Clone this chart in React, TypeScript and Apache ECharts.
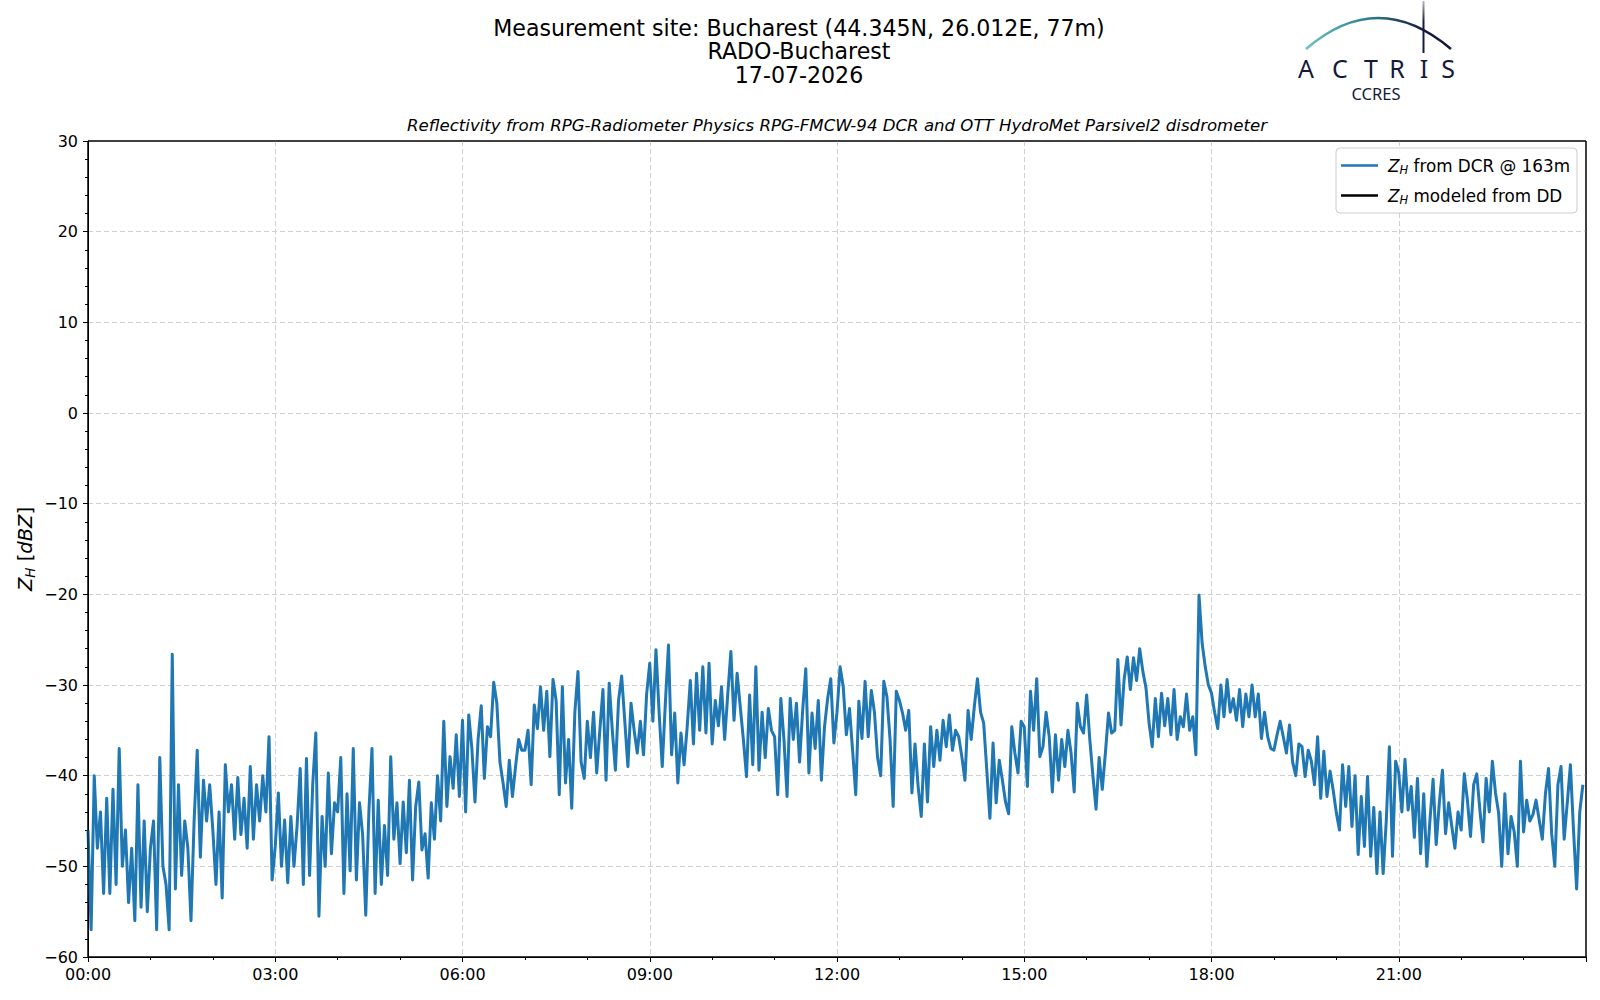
import React, { useEffect, useRef } from "react";
import * as echarts from "echarts";

// Time step between samples, minutes
const STEP_MIN = 3;

// Z_H from DCR @ 163m [dBZ], 3-minute samples, 00:00 - 05:57
const zhDcr00to06 = [
  -46, -57, -40, -48, -44, -53, -42.5, -53, -41.5, -52, -37, -50, -46, -54, -48, -56, -41, -54.5, -45, -55,
  -48, -45, -57, -38, -50, -52, -57, -26.6, -52.5, -41, -51, -45, -48, -56, -45, -37.2, -49, -40.5, -45, -41,
  -46, -52, -44, -53.5, -38.8, -44, -41, -47, -40.2, -46.5, -42.5, -48, -39, -47, -41, -45, -40, -44, -35.7, -51.5,
  -47.8, -41.9, -50, -44.9, -51.8, -44.5, -50, -45.5, -39.2, -52, -38.1, -51, -41, -35.3, -55.5, -44.5, -50, -39.7, -48.6, -43,
  -44, -38, -53, -42, -50.5, -37, -51.5, -43, -46.5, -55.4, -44, -37, -53, -42.7, -52, -45.5, -51, -37.9, -47, -43,
  -49.7, -42.9, -48.5, -40.5, -51.5, -43.4, -40.7, -48.2, -46.4, -51.3, -43, -47, -40, -45, -34, -43.4, -37.9, -41.4, -35.5, -42.3,
];
// 06:00 - 11:57
const zhDcr06to12 = [
  -33.9, -44, -33.3, -37, -42.9, -36, -32.3, -40.3, -34.6, -35.7, -29.7, -32, -38.5, -40.8, -43.4, -38.3, -42.3, -39, -36, -37.2,
  -37.2, -35, -41, -32.2, -34.8, -30.2, -35, -30.7, -37.9, -29.4, -31.7, -42.1, -30.2, -40.8, -36, -43.6, -33, -28.5, -38.5, -40.3,
  -34, -38, -33, -39.7, -35, -30.5, -40.5, -29.8, -35, -39.4, -31.7, -29, -34, -39, -32, -35, -37.5, -34, -37.7, -31,
  -27.6, -34, -26.1, -33, -39, -32, -25.6, -37.7, -33.1, -40.8, -35.3, -38.8, -34.6, -29.5, -36.5, -28.7, -35, -28, -35.3, -27.6,
  -36.5, -31.7, -34.5, -30.2, -36, -31, -26.3, -33.9, -28.7, -32.4, -36, -40.1, -31.1, -38.8, -28, -39.4, -33, -38, -32.6, -35,
  -35.7, -42.1, -31.5, -36, -42.3, -31.5, -36, -32, -38.5, -32.8, -28.2, -39.7, -33.1, -37, -31.7, -40.5, -34.6, -31.5, -29.3, -36.4,
];
// 12:00 - 17:57
const zhDcr12to18 = [
  -33, -28, -30.2, -35.5, -32.6, -37.2, -42.1, -31.8, -35.9, -29.6, -35.7, -30.6, -33, -38, -40, -29.6, -31.3, -36, -43.4, -30.7,
  -31.7, -33.1, -35, -32.8, -41.9, -36.5, -41.2, -44.5, -36.5, -42.9, -34.6, -39, -35, -38.3, -33.9, -36.8, -33.3, -37.2, -35, -35.7,
  -37.9, -40.5, -32.8, -36, -32.4, -29.3, -33, -34.2, -39.4, -44.7, -36.4, -43, -38.3, -40.5, -42.9, -44.2, -34.6, -37.5, -39.7, -34,
  -34.6, -41.2, -30.7, -35, -29.3, -37.9, -36.8, -33, -35.7, -41.8, -35.5, -40.5, -36, -39, -35, -37.5, -41.8, -32, -34.6, -35.3,
  -31.1, -36, -40, -43.7, -38, -41.5, -37.5, -33.1, -35.3, -35, -27.2, -34.4, -29.4, -26.9, -30.5, -27, -29.5, -26, -28.5, -30.3,
  -34.2, -36.8, -31.5, -35.7, -30.9, -34.5, -31.5, -35.5, -30.5, -36, -33.5, -34.6, -31, -35, -33.5, -37.7, -20.1, -25.4, -28, -30,
];
// 18:00 - 23:57
const zhDcr18to24 = [
  -30.9, -33, -34.8, -30, -33.5, -29.4, -33, -31.5, -33.9, -30.5, -34.6, -31, -33.5, -30, -33.5, -31, -35.9, -33, -35.7, -37,
  -37.2, -35.5, -34, -35.7, -37.5, -34.4, -38.5, -40, -36.5, -36.8, -40.1, -37.2, -38.4, -41, -35.7, -42.5, -37.3, -42.3, -39.5, -41.6,
  -44.1, -46, -38.8, -43.4, -39, -45.6, -40, -48.7, -42.3, -47.8, -40.1, -48.9, -43.5, -50.8, -44, -50.8, -45, -36.8, -48.9, -38.4,
  -39.7, -44, -38.2, -43.8, -41.2, -46.8, -40.3, -48.6, -42, -50, -44.9, -40.4, -47.6, -43, -39.4, -46.4, -43, -45.6, -48, -44,
  -46, -39.8, -42.7, -46.7, -41, -39.8, -43.8, -47.3, -40.3, -44, -38.4, -41.9, -44.1, -50, -42, -48.6, -44.5, -46.2, -50, -38.4,
  -46.2, -42.7, -45, -44.3, -42.7, -44.9, -47, -42, -39.2, -46.4, -50, -41, -39, -47, -43, -38.8, -46, -52.5, -44, -41,
];

// Z_H modeled from DD: no data for this day
const zhModeledDD: [number, number][] = [];

const xTickLabels = ["00:00", "03:00", "06:00", "09:00", "12:00", "15:00", "18:00", "21:00", "24:00"];

const titleLines = [
  "Measurement site: Bucharest (44.345N, 26.012E, 77m)",
  "RADO-Bucharest",
  "17-07-2026",
];
const subtitle =
  "Reflectivity from RPG-Radiometer Physics RPG-FMCW-94 DCR and OTT HydroMet Parsivel2 disdrometer";

const FONT = "DejaVu Sans";
const NAVY = "#151a3c";

export default function App() {
  const ref = useRef<HTMLDivElement>(null);

  useEffect(() => {
    document.body.style.margin = "0";
    if (!ref.current) return;
    const chart = echarts.init(ref.current, null, { renderer: "svg" });

    const allValues = [...zhDcr00to06, ...zhDcr06to12, ...zhDcr12to18, ...zhDcr18to24];
    const dcrData = allValues.map((v, i) => [i * STEP_MIN, v]);

    const minus = (v: number) => String(v).replace("-", "\u2212");

    const richLegend = {
      g: { width: 5, lineHeight: 20 },
      i: { fontFamily: FONT, fontStyle: "italic", fontSize: 16.8, lineHeight: 20, color: "#000" },
      s: { fontFamily: FONT, fontStyle: "italic", fontSize: 11.5, lineHeight: 10, verticalAlign: "bottom", color: "#000" },
      t: { fontFamily: FONT, fontSize: 16.8, lineHeight: 20, color: "#000" },
    };

    const letters = [
      { ch: "A", x: 1306 },
      { ch: "C", x: 1340 },
      { ch: "T", x: 1371 },
      { ch: "R", x: 1397 },
      { ch: "I", x: 1424 },
      { ch: "S", x: 1448 },
    ];

    const option: any = {
      animation: false,
      backgroundColor: "#ffffff",
      textStyle: { fontFamily: FONT },
      title: [
        {
          text: titleLines.join("\n"),
          left: 799,
          top: 16.5,
          padding: 0,
          textAlign: "center",
          textStyle: {
            fontFamily: FONT,
            fontSize: 22.1,
            fontWeight: "normal",
            lineHeight: 23.3,
            color: "#000",
          },
        },
        {
          text: subtitle,
          left: 837,
          top: 117,
          padding: 0,
          textAlign: "center",
          textStyle: {
            fontFamily: FONT,
            fontSize: 16.6,
            fontStyle: "italic",
            fontWeight: "normal",
            color: "#000",
          },
        },
      ],
      grid: {
        left: 88,
        right: 14,
        top: 141,
        bottom: 43,
        show: true,
        borderColor: "#000",
        borderWidth: 1,
        backgroundColor: "transparent",
      },
      legend: {
        left: 1336,
        top: 148,
        orient: "vertical",
        icon: "rect",
        itemWidth: 37,
        itemHeight: 2.5,
        itemGap: 11.5,
        padding: [9, 7, 7.5, 5],
        backgroundColor: "rgba(255,255,255,0.85)",
        borderColor: "#cccccc",
        borderWidth: 1,
        borderRadius: 4,
        data: ["DCR", "DD"],
        formatter: (name: string) =>
          name === "DCR"
            ? "{g|}{i|Z}{s|H}{t| from DCR @ 163m}"
            : "{g|}{i|Z}{s|H}{t| modeled from DD}",
        textStyle: { rich: richLegend },
      },
      xAxis: {
        type: "value",
        min: 0,
        max: 1440,
        interval: 180,
        axisLine: { show: true, onZero: false, lineStyle: { color: "#000", width: 1 } },
        axisTick: { show: true, length: 5, lineStyle: { color: "#000", width: 1 } },
        minorTick: { show: true, splitNumber: 3, length: 3, lineStyle: { color: "#000", width: 1 } },
        splitLine: {
          show: true,
          showMinLine: false,
          showMaxLine: false,
          lineStyle: { color: "#d0d0d0", width: 1, type: [5, 3] },
        },
        minorSplitLine: { show: false },
        axisLabel: {
          showMaxLabel: false,
          fontFamily: FONT,
          fontSize: 16,
          color: "#000",
          margin: 9,
          formatter: (v: number) => xTickLabels[Math.round(v / 180)],
        },
      },
      yAxis: {
        type: "value",
        min: -60,
        max: 30,
        interval: 10,
        name: "{i|Z}{s|H}{n| [}{i|dBZ}{n|]}",
        nameLocation: "middle",
        nameGap: 51,
        nameMoveOverlap: false,
        nameRotate: 90,
        nameTextStyle: {
          rich: {
            i: { fontFamily: FONT, fontStyle: "italic", fontSize: 19.5, lineHeight: 24, color: "#000" },
            s: { fontFamily: FONT, fontStyle: "italic", fontSize: 13.5, lineHeight: 12, verticalAlign: "bottom", color: "#000" },
            n: { fontFamily: FONT, fontSize: 19.5, lineHeight: 24, color: "#000" },
          },
        },
        axisLine: { show: true, onZero: false, lineStyle: { color: "#000", width: 1 } },
        axisTick: { show: true, length: 5, lineStyle: { color: "#000", width: 1 } },
        minorTick: { show: true, splitNumber: 5, length: 3, lineStyle: { color: "#000", width: 1 } },
        splitLine: {
          show: true,
          showMinLine: false,
          showMaxLine: false,
          lineStyle: { color: "#d0d0d0", width: 1, type: [5, 3] },
        },
        minorSplitLine: { show: false },
        axisLabel: {
          fontFamily: FONT,
          fontSize: 16,
          color: "#000",
          margin: 10,
          formatter: (v: number) => minus(v),
        },
      },
      series: [
        {
          name: "DCR",
          type: "line",
          data: dcrData,
          symbol: "none",
          showSymbol: false,
          lineStyle: { color: "#1f77b4", width: 3, join: "round" },
          itemStyle: { color: "#1f77b4" },
          z: 3,
        },
        {
          name: "DD",
          type: "line",
          data: zhModeledDD,
          symbol: "none",
          showSymbol: false,
          lineStyle: { color: "#000", width: 3 },
          itemStyle: { color: "#000" },
        },
      ],
      graphic: [
        {
          type: "rect",
          z: 50,
          silent: true,
          shape: { x: 88, y: 141, width: 1498, height: 816 },
          style: { fill: "none", stroke: "#000", lineWidth: 1 },
        },
        {
          type: "bezierCurve",
          shape: { x1: 1306, y1: 49, x2: 1451, y2: 49, cpx1: 1378, cpy1: -13 },
          style: {
            fill: null,
            lineWidth: 2.6,
            stroke: new echarts.graphic.LinearGradient(0, 0, 1, 0, [
              { offset: 0, color: "#6cc3bf" },
              { offset: 0.45, color: "#2b7a8c" },
              { offset: 0.8, color: NAVY },
              { offset: 1, color: NAVY },
            ]),
          },
        },
        {
          type: "rect",
          shape: { x: 1422.5, y: 1, width: 2, height: 52 },
          style: {
            fill: new echarts.graphic.LinearGradient(0, 0, 0, 1, [
              { offset: 0, color: "rgba(21,26,60,0.3)" },
              { offset: 0.4, color: NAVY },
              { offset: 1, color: NAVY },
            ]),
          },
        },
        ...letters.map((l) => ({
          type: "text",
          x: l.x,
          y: 68,
          style: {
            text: l.ch,
            fontFamily: "Noto Sans",
            fontSize: 25,
            lineHeight: 18,
            fill: NAVY,
            textAlign: "center",
            textVerticalAlign: "middle",
          },
        })),
        {
          type: "text",
          x: 1376,
          y: 93.5,
          style: {
            text: "CCRES",
            fontFamily: "Noto Sans",
            fontSize: 16.5,
            lineHeight: 14,
            fill: NAVY,
            textAlign: "center",
            textVerticalAlign: "middle",
          },
        },
      ],
    };

    chart.setOption(option);
    return () => chart.dispose();
  }, []);

  return <div ref={ref} style={{ width: 1600, height: 1000 }} />;
}
